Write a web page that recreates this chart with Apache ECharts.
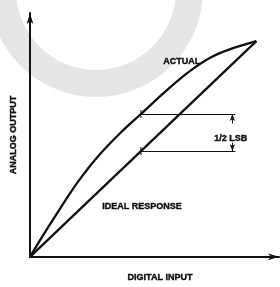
<!DOCTYPE html>
<html lang="en">
<head>
    <meta charset="UTF-8">
    <title>Analog output vs digital input</title>
    <style>
        html, body { margin: 0; padding: 0; background: #fff; }
    </style>
</head>
<body>

<div id="main" style="width:280px; height:287px;"></div>

<script src="https://cdn.jsdelivr.net/npm/echarts@6/dist/echarts.min.js"></script>
<script>
    // full scale = 1 on both axes
    var inputX  = [0, 0.07, 0.14, 0.21, 0.30, 0.40, 0.49, 0.60, 0.70, 0.80, 0.90, 1];
    var actualY = [0, 0.12, 0.235, 0.345, 0.465, 0.575, 0.662, 0.768, 0.856, 0.925, 0.968, 1];
    var idealX  = [0, 1];
    var idealY  = [0, 1];

    var gapX = 0.49;
    var gapTop = 0.662;
    var gapBottom = 0.49;
    var gapLineEnd = 0.907;
    var arrowX = 0.894;
    var arrowTails = [0.618, 0.529];

    var font = 'Liberation Sans';
    var black = '#111';

    function pairs(xs, ys) {
        return xs.map(function (x, i) { return [x, ys[i]]; });
    }

    // bold text, thickened a little to look like the old print
    function label(text, left, top) {
        return {
            type: 'text', left: left, top: top,
            style: {
                text: text,
                font: 'bold 9px ' + font,
                fill: black,
                stroke: black,
                lineWidth: 0.4
            }
        };
    }

    var chart = echarts.init(document.getElementById('main'));

    var axisCommon = {
        type: 'value',
        min: 0,
        axisLine: {
            show: true,
            symbol: ['none', 'arrow'],
            symbolSize: [5, 11],
            lineStyle: { color: black, width: 2 }
        },
        axisTick: { show: false },
        axisLabel: { show: false },
        splitLine: { show: false },
        nameLocation: 'middle',
        nameTextStyle: {
            fontFamily: font,
            fontWeight: 'bold',
            fontSize: 9,
            color: black,
            textBorderColor: black,
            textBorderWidth: 0.4
        }
    };

    chart.setOption({
        animation: false,
        grid: { left: 30, top: 13, width: 249, height: 254 },
        xAxis: echarts.util.merge({
            max: 1.1,
            name: 'DIGITAL INPUT',
            nameGap: 16,
            nameTextStyle: { padding: [0, 0, 0, 11] }
        }, axisCommon),
        yAxis: echarts.util.merge({
            max: 1.13,
            name: 'ANALOG OUTPUT',
            nameGap: 12
        }, axisCommon),
        graphic: [
            {   // faint watermark ring
                type: 'ring',
                z: -10,
                silent: true,
                shape: { cx: 96, cy: -10, r: 107, r0: 80 },
                style: { fill: '#e6e6e6' }
            },
            label('ACTUAL', 163, 57),
            label('IDEAL RESPONSE', 102, 202),
            label('1/2 LSB', 214, 134)
        ],
        series: [{
            name: 'ideal',
            type: 'line',
            data: pairs(idealX, idealY),
            showSymbol: false,
            lineStyle: { color: black, width: 2.3 }
        }, {
            name: 'actual',
            type: 'line',
            smooth: 0.3,
            data: pairs(inputX, actualY),
            showSymbol: false,
            lineStyle: { color: black, width: 2.3 }
        }, {
            name: 'gap',
            type: 'scatter',
            symbol: 'rect',
            symbolSize: [1.3, 8],
            itemStyle: { color: black },
            data: [[gapX, gapTop], [gapX, gapBottom]],
            markLine: {
                silent: true,
                symbol: ['none', 'none'],
                label: { show: false },
                emphasis: { disabled: true },
                lineStyle: { color: black, width: 1, type: 'solid' },
                data: [
                    [{ coord: [gapX, gapTop], symbol: 'none' },
                     { coord: [gapLineEnd, gapTop], symbol: 'none' }],
                    [{ coord: [gapX, gapBottom], symbol: 'none' },
                     { coord: [gapLineEnd, gapBottom], symbol: 'none' }],
                    [{ coord: [arrowX, arrowTails[0]], symbol: 'none' },
                     { coord: [arrowX, gapTop], symbol: 'arrow', symbolSize: [4, 7] }],
                    [{ coord: [arrowX, arrowTails[1]], symbol: 'none' },
                     { coord: [arrowX, gapBottom], symbol: 'arrow', symbolSize: [4, 7] }]
                ]
            }
        }]
    });
</script>
</body>
</html>
